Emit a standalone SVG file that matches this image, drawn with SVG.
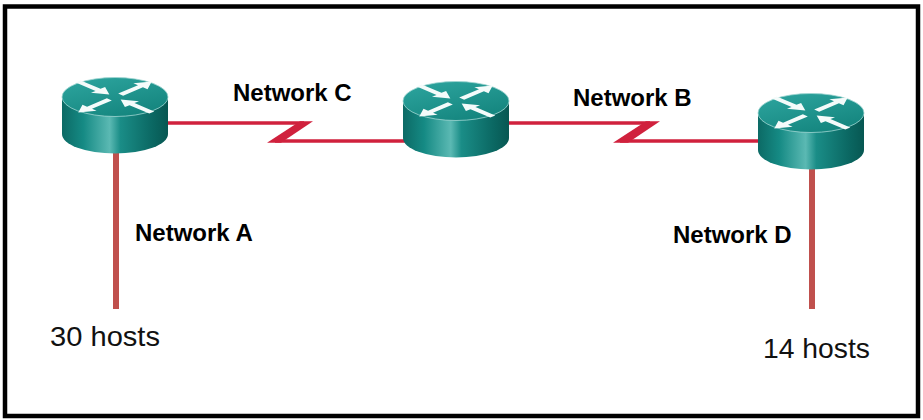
<svg xmlns="http://www.w3.org/2000/svg" xmlns:xlink="http://www.w3.org/1999/xlink" width="923" height="420" viewBox="0 0 923 420">
  <style>
    .lbl { font-family: "Liberation Sans", Arial, sans-serif; font-weight: bold; font-size: 24px; fill: #000; }
    .hosts { font-family: "Liberation Sans", Arial, sans-serif; font-size: 28px; fill: #111; }
    .wan { stroke: #D0213D; stroke-width: 3.5; fill: none; }
    .zig { fill: #D0213D; }
    .lan { stroke: #C0504D; stroke-width: 6; fill: none; }
    .arrow { fill: #f4fbfa; }
  </style>
  <defs>
    <linearGradient id="side" x1="0" y1="0" x2="1" y2="0">
      <stop offset="0" stop-color="#0c6a65"/>
      <stop offset="0.2" stop-color="#158a84"/>
      <stop offset="0.45" stop-color="#5bb9b3"/>
      <stop offset="0.55" stop-color="#1a8d87"/>
      <stop offset="0.85" stop-color="#0b6863"/>
      <stop offset="1" stop-color="#075752"/>
    </linearGradient>
    <linearGradient id="top" x1="0" y1="0" x2="0.6" y2="1">
      <stop offset="0" stop-color="#2ea6a0"/>
      <stop offset="1" stop-color="#15867f"/>
    </linearGradient>
    <g id="router">
      <path d="M-53,0 L-53,37 A53,19.5 0 0 0 53,37 L53,0 Z" fill="url(#side)"/>
      <ellipse cx="0" cy="0" rx="53" ry="19.5" fill="url(#top)" stroke="#9fd6d2" stroke-width="0.8"/>
      <g transform="scale(1,0.42)">
        <polygon class="arrow" transform="rotate(-45)" points="8,-3.5 36,-3.5 36,-10 52,0 36,10 36,3.5 8,3.5"/>
        <polygon class="arrow" transform="rotate(135)" points="8,-3.5 36,-3.5 36,-10 52,0 36,10 36,3.5 8,3.5"/>
        <polygon class="arrow" transform="rotate(-135)" points="52,-3.5 24,-3.5 24,-10 8,0 24,10 24,3.5 52,3.5"/>
        <polygon class="arrow" transform="rotate(45)" points="52,-3.5 24,-3.5 24,-10 8,0 24,10 24,3.5 52,3.5"/>
      </g>
    </g>
  </defs>

  <rect x="0" y="0" width="923" height="420" fill="#ffffff"/>
  <rect x="5" y="6.5" width="913" height="409.5" fill="none" stroke="#000" stroke-width="4.5"/>

  <g id="connectors">
    <!-- Network C -->
    <line class="wan" x1="160" y1="123" x2="304" y2="123"/>
    <polygon class="zig" points="300,121.2 313,121.2 281,142.8 267,142.8"/>
    <line class="wan" x1="275" y1="141" x2="412" y2="141"/>
    <!-- Network B -->
    <line class="wan" x1="500" y1="123" x2="650" y2="123"/>
    <polygon class="zig" points="646,121.2 660,121.2 628,142.8 613,142.8"/>
    <line class="wan" x1="620" y1="141" x2="766" y2="141"/>
    <!-- Network A -->
    <line class="lan" x1="116" y1="140" x2="116" y2="309"/>
    <!-- Network D -->
    <line class="lan" x1="812" y1="155" x2="812" y2="309"/>
  </g>

  <g id="router1"><use xlink:href="#router" href="#router" transform="translate(115,97)"/></g>
  <g id="router2"><use xlink:href="#router" href="#router" transform="translate(456,101)"/></g>
  <g id="router3"><use xlink:href="#router" href="#router" transform="translate(811,113)"/></g>

  <g id="labels">
    <text class="lbl" x="233" y="101">Network C</text>
    <text class="lbl" x="573" y="106">Network B</text>
    <text class="lbl" x="135" y="241">Network A</text>
    <text class="lbl" x="673" y="243">Network D</text>
    <text class="hosts" x="50" y="346" textLength="110" lengthAdjust="spacingAndGlyphs">30 hosts</text>
    <text class="hosts" x="763" y="358" textLength="107" lengthAdjust="spacingAndGlyphs">14 hosts</text>
  </g>
</svg>
